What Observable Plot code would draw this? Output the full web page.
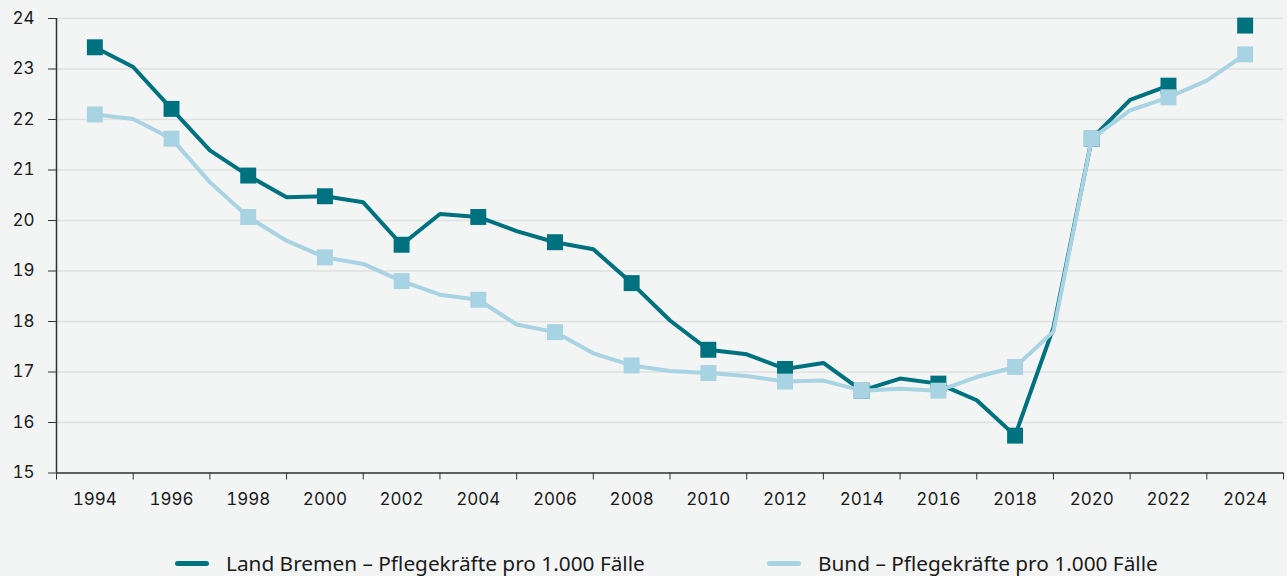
<!DOCTYPE html>
<html>
<head>
<meta charset="utf-8">
<script src="https://cdn.jsdelivr.net/npm/d3@7"></script>
<script src="https://cdn.jsdelivr.net/npm/@observablehq/plot@0.6"></script>
<style>
  html, body { margin: 0; padding: 0; background: #f3f4f4; }
  #wrap { position: relative; width: 1287px; height: 576px; overflow: hidden; background: #f3f4f4; }
  #chart svg { display: block; }
  .legend-item { position: absolute; top: 551px; height: 24px; line-height: 24px; display: flex; align-items: center; font-family: "Noto Sans", sans-serif; font-size: 20.8px; color: #1a1a1a; white-space: nowrap; }
  .swatch { width: 34px; height: 5px; border-radius: 3px; margin-right: 17px; }
</style>
</head>
<body>
<div id="wrap">
  <div id="chart"></div>
  <div class="legend-item" style="left:175px"><span class="swatch" style="background:#00717f"></span><span>Land Bremen – Pflegekräfte pro 1.000 Fälle</span></div>
  <div class="legend-item" style="left:767px"><span class="swatch" style="background:#a8d3e3"></span><span>Bund – Pflegekräfte pro 1.000 Fälle</span></div>
</div>
<script>
const years = [1994,1995,1996,1997,1998,1999,2000,2001,2002,2003,2004,2005,2006,2007,2008,2009,2010,2011,2012,2013,2014,2015,2016,2017,2018,2019,2020,2021,2022,2023,2024];
const bremen = [23.43,23.04,22.21,21.39,20.89,20.46,20.48,20.36,19.52,20.13,20.07,19.79,19.57,19.43,18.76,18.02,17.44,17.35,17.06,17.18,16.63,16.87,16.77,16.44,15.74,17.88,21.62,22.39,22.67,null,23.86];
const bund = [22.10,22.01,21.62,20.76,20.07,19.60,19.27,19.14,18.80,18.53,18.43,17.94,17.79,17.37,17.13,17.02,16.98,16.92,16.81,16.83,16.63,16.67,16.63,16.90,17.10,17.80,21.62,22.18,22.44,22.77,23.29];
const markerYears = [1994,1996,1998,2000,2002,2004,2006,2008,2010,2012,2014,2016,2018,2020,2022,2024];
const yTicks = [15,16,17,18,19,20,21,22,23,24];
const xTickMarks = [1993,1995,1997,1999,2001,2003,2005,2007,2009,2011,2013,2015,2017,2019,2021,2023,2025];
const xTickLabels = ["1994","1996","1998","2000","2002","2004","2006","2008","2010","2012","2014","2016","2018","2020","2022","2024"];

const colBremen = "#00717f";
const colBund = "#a8d3e3";

const bremenData = years.map((y, i) => ({year: y, value: bremen[i]}));
const bundData = years.map((y, i) => ({year: y, value: bund[i]}));
const bremenMarks = bremenData.filter(d => markerYears.includes(d.year) && d.value != null);
const bundMarks = bundData.filter(d => markerYears.includes(d.year));

const chart = Plot.plot({
  width: 1287,
  height: 520,
  marginTop: 18,
  marginBottom: 47.5,
  marginLeft: 56,
  marginRight: 4,
  style: { background: "transparent", fontFamily: "Inter, 'Liberation Sans', sans-serif", fontSize: "17px", color: "#1a1a1a" },
  x: { domain: [1993, 2025] },
  y: { domain: [15, 24] },
  marks: [
    Plot.gridY(yTicks, { stroke: "#dfe1e1", strokeOpacity: 1, strokeWidth: 1.5 }),
    Plot.axisY(yTicks, { tickSize: 8, tickPadding: 14, stroke: "#333", tickFormat: d => String(d), label: null }),
    Plot.axisX(xTickMarks, { tickSize: 7, tickFormat: () => "", stroke: "#333", label: null }),
    Plot.axisX(xTickLabels.map(Number), { tickSize: 0, tickPadding: 20, tickFormat: d => String(d), label: null }),
    Plot.ruleY([15], { stroke: "#333", strokeWidth: 1.5 }),
    Plot.ruleX([1993], { stroke: "#333", strokeWidth: 1.5 }),
    Plot.line(bremenData, { x: "year", y: "value", stroke: colBremen, strokeWidth: 4, strokeLinejoin: "miter", curve: "linear" }),
    Plot.dot(bremenMarks, { x: "year", y: "value", symbol: "square", r: 9, fill: colBremen, stroke: "none" }),
    Plot.line(bundData, { x: "year", y: "value", stroke: colBund, strokeWidth: 4, strokeLinejoin: "miter", curve: "linear" }),
    Plot.dot(bundMarks, { x: "year", y: "value", symbol: "square", r: 9, fill: colBund, stroke: "none" })
  ]
});
document.getElementById("chart").appendChild(chart);
</script>
</body>
</html>
